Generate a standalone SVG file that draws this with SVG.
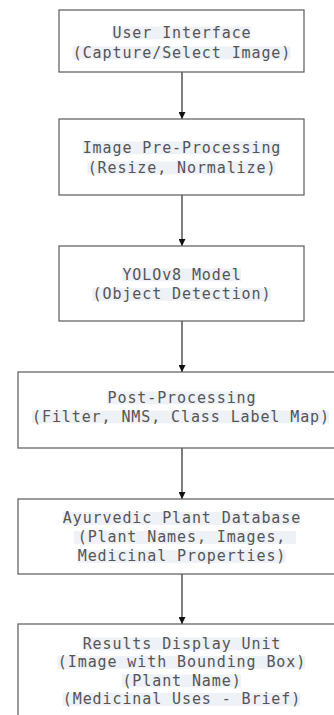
<svg xmlns="http://www.w3.org/2000/svg" width="334" height="715" viewBox="0 0 334 715">
<defs>
<style>
.box{fill:#ffffff;stroke:#5a5a5a;stroke-width:1.2}
.hl{fill:#eef1f6}
.t{font-family:"DejaVu Sans Mono","Liberation Mono",monospace;font-size:15px;letter-spacing:0.9px;fill:#555555;text-anchor:middle}
.conn{stroke:#3a3a3a;stroke-width:1.3;fill:none}
</style>
<marker id="ah" viewBox="0 0 10 10" refX="10" refY="5" markerWidth="7" markerHeight="7" markerUnits="userSpaceOnUse" orient="auto">
<path d="M0,0 L10,5 L0,10 Z" fill="#111111"/>
</marker>
</defs>
<rect width="334" height="715" fill="#ffffff"/>
<g id="connectors">
<line class="conn" x1="182" y1="72" x2="182" y2="119" marker-end="url(#ah)"/>
<line class="conn" x1="182" y1="195" x2="182" y2="246" marker-end="url(#ah)"/>
<line class="conn" x1="182" y1="321" x2="182" y2="372" marker-end="url(#ah)"/>
<line class="conn" x1="182" y1="448" x2="182" y2="499" marker-end="url(#ah)"/>
<line class="conn" x1="182" y1="574" x2="182" y2="624" marker-end="url(#ah)"/>
</g>
<g id="user-interface">
<rect class="box" x="59" y="10" width="245" height="62"/>
<rect class="hl" x="112.2" y="26.5" width="138.6" height="12.8"/>
<rect class="hl" x="72.6" y="46.5" width="217.8" height="12.8"/>
<text class="t" x="182" y="37.8">User Interface</text>
<text class="t" x="182" y="57.8">(Capture/Select Image)</text>
</g>
<g id="pre-processing">
<rect class="box" x="59" y="119" width="245" height="76"/>
<rect class="hl" x="82.5" y="141.5" width="198" height="12.8"/>
<rect class="hl" x="87.4" y="161.5" width="188.1" height="12.8"/>
<text class="t" x="182" y="152.8">Image Pre-Processing</text>
<text class="t" x="182" y="172.8">(Resize, Normalize)</text>
</g>
<g id="yolov8">
<rect class="box" x="59" y="246" width="245" height="75"/>
<rect class="hl" x="122.1" y="268.5" width="118.8" height="12.8"/>
<rect class="hl" x="92.4" y="288" width="178.2" height="12.8"/>
<text class="t" x="182" y="279.8">YOLOv8 Model</text>
<text class="t" x="182" y="299.3">(Object Detection)</text>
</g>
<g id="post-processing">
<rect class="box" x="18" y="372" width="327" height="76"/>
<rect class="hl" x="107.2" y="391.5" width="148.5" height="12.8"/>
<rect class="hl" x="32" y="410.5" width="297" height="12.8"/>
<text class="t" x="182" y="402.8">Post-Processing</text>
<text class="t" x="181" y="421.8">(Filter, NMS, Class Label Map)</text>
</g>
<g id="plant-database">
<rect class="box" x="18" y="499" width="327" height="75"/>
<rect class="hl" x="62.7" y="512" width="237.6" height="12.8"/>
<rect class="hl" x="74" y="531" width="222" height="12.8"/>
<rect class="hl" x="77.5" y="550" width="207.9" height="12.8"/>
<text class="t" x="182" y="523.3">Ayurvedic Plant Database</text>
<text class="t" x="182" y="542.3">(Plant Names, Images,</text>
<text class="t" x="182" y="561.3">Medicinal Properties)</text>
</g>
<g id="results-display">
<rect class="box" x="18" y="624" width="327" height="100"/>
<rect class="hl" x="82.5" y="637.5" width="198" height="12.8"/>
<rect class="hl" x="57.7" y="656" width="247.5" height="12.8"/>
<rect class="hl" x="122.1" y="674.5" width="118.8" height="12.8"/>
<rect class="hl" x="62.7" y="693" width="237.6" height="12.8"/>
<text class="t" x="182" y="648.8">Results Display Unit</text>
<text class="t" x="182" y="667.3">(Image with Bounding Box)</text>
<text class="t" x="182" y="685.8">(Plant Name)</text>
<text class="t" x="182" y="704.3">(Medicinal Uses - Brief)</text>
</g>
</svg>
